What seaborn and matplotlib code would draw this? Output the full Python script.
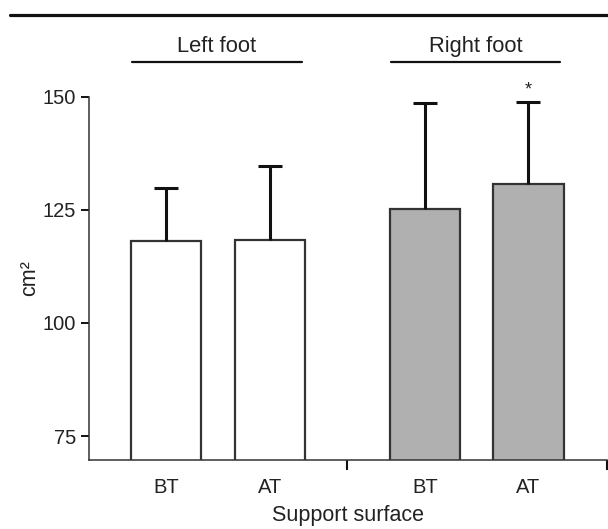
import matplotlib
matplotlib.use("Agg")
import matplotlib.pyplot as plt
import matplotlib.transforms as mtransforms
import numpy as np
import pandas as pd
import seaborn as sns

# ---- data ----
conditions = ["BT", "AT", "BT", "AT"]
feet = ["Left foot", "Left foot", "Right foot", "Right foot"]
positions = [0.0, 1.0, 2.5, 3.5]
means = [118.2, 118.3, 125.1, 130.7]
sd_upper = [11.6, 16.4, 23.6, 18.1]
bar_colors = ["#ffffff", "#ffffff", "#b0b0b0", "#b0b0b0"]
significant = [False, False, False, True]
y_ticks = [75, 100, 125, 150]
group_labels = ["Left foot", "Right foot"]

df = pd.DataFrame({"pos": positions, "mean": means, "foot": feet})

sns.set_style("white")
plt.rcParams["font.family"] = ["Liberation Sans", "DejaVu Sans"]

fig = plt.figure(figsize=(6.08, 5.29), dpi=100)
ax = fig.add_axes([89 / 608, 1 - 460 / 529, (607 - 89) / 608, (460 - 96.7) / 529])

bw = 0.68
sns.barplot(data=df, x="pos", y="mean", hue="pos", palette=bar_colors,
            native_scale=True, width=bw, errorbar=None, legend=False,
            edgecolor="#333333", linewidth=1.6, ax=ax)

eb = ax.errorbar(positions, means, yerr=[np.zeros(len(means)), sd_upper], fmt="none",
                 ecolor="#111111", elinewidth=2.2, capsize=8.5, capthick=2.2, zorder=1)
# keep only the upper caps
caps = eb.lines[1]
if len(caps) == 2:
    caps[0].remove()

for p, m, s, sig in zip(positions, means, sd_upper, significant):
    if sig:
        ax.text(p, m + s + 0.9, "*", ha="center", va="bottom", fontsize=13,
                color="#222222", clip_on=False)

ax.set_ylim(69.7, 150)
xl = (-0.747, 4.26)
ax.set_xlim(*xl)
ax.set_yticks(y_ticks)
ax.set_xticks(positions)
ax.set_xticklabels(conditions)
ax.set_xticks([(positions[1] + positions[2]) / 2, xl[1]], minor=True)
ax.tick_params(axis="x", which="major", length=0, pad=13, labelsize=14.5, colors="#222222")
ax.tick_params(axis="x", which="minor", bottom=True, length=7, width=1.5,
               direction="out", color="#111111")
ax.tick_params(axis="y", which="major", length=5.5, width=1.4, pad=4, direction="out",
               labelsize=14.5, colors="#222222", left=True)
ax.tick_params(axis="y", color="#111111")

ax.set_xlabel("Support surface", fontsize=15.5, color="#222222", labelpad=6)
ax.set_ylabel("cm²", fontsize=15.5, color="#222222", labelpad=2)

for side in ["top", "right"]:
    ax.spines[side].set_visible(False)
for side in ["left", "bottom"]:
    ax.spines[side].set_color("#333333")
    ax.spines[side].set_linewidth(1.1)

# group labels with lines
trans = mtransforms.blended_transform_factory(ax.transData, fig.transFigure)
groups = [(positions[0], positions[1]), (positions[2], positions[3])]
for (a, b), lab in zip(groups, group_labels):
    x0, x1 = a - bw / 2 + 0.01, b + bw / 2 - 0.03
    ax.plot([x0, x1], [1 - 62 / 529] * 2, transform=trans, color="#111111",
            lw=1.6, clip_on=False)
    ax.text((x0 + x1) / 2, 1 - 52 / 529, lab, transform=trans, ha="center",
            va="baseline", fontsize=15.8, color="#222222")

# top rule
fig.add_artist(plt.Line2D([10 / 608, 1.0], [1 - 14.7 / 529] * 2,
                          transform=fig.transFigure, color="#111111", lw=2.3))

fig.savefig("out.png", dpi=100)
